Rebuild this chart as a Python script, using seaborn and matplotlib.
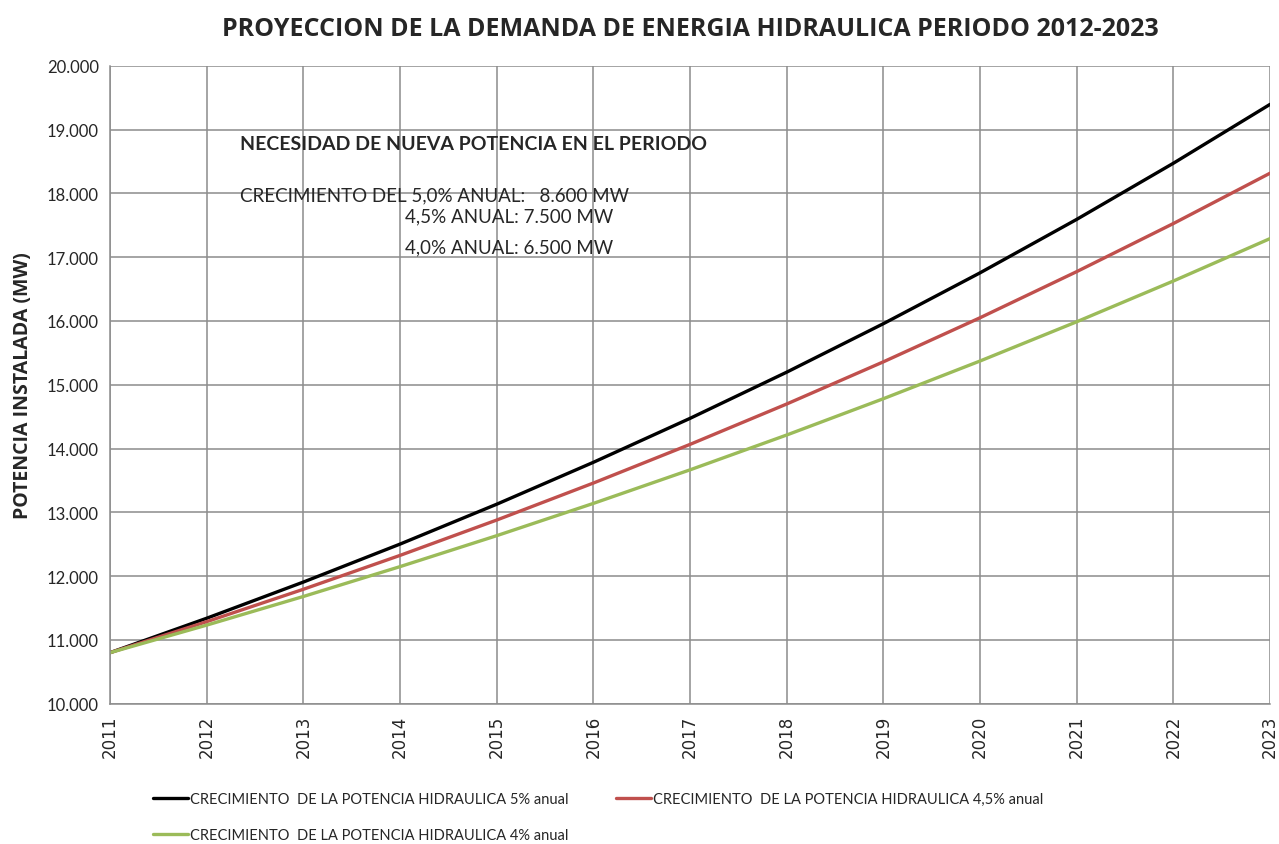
import numpy as np
import pandas as pd
import matplotlib
matplotlib.use("Agg")
import matplotlib.pyplot as plt
import seaborn as sns

# data
years = [2011, 2012, 2013, 2014, 2015, 2016, 2017, 2018, 2019, 2020, 2021, 2022, 2023]
pot_5 = [10800, 11340, 11907, 12502, 13127, 13784, 14473, 15197, 15957, 16754, 17592, 18472, 19395]
pot_45 = [10800, 11286, 11794, 12325, 12879, 13459, 14065, 14698, 15359, 16050, 16773, 17527, 18316]
pot_4 = [10800, 11232, 11681, 12149, 12634, 13140, 13666, 14212, 14781, 15372, 15987, 16626, 17291]

lab_5 = "CRECIMIENTO  DE LA POTENCIA HIDRAULICA 5% anual"
lab_45 = "CRECIMIENTO  DE LA POTENCIA HIDRAULICA 4,5% anual"
lab_4 = "CRECIMIENTO  DE LA POTENCIA HIDRAULICA 4% anual"

df = pd.DataFrame({"year": years * 3,
                   "potencia": pot_5 + pot_45 + pot_4,
                   "serie": [lab_5] * 13 + [lab_45] * 13 + [lab_4] * 13})

sns.set_style("white")
plt.rcParams["font.family"] = ["Lato", "DejaVu Sans"]

fig = plt.figure(figsize=(12.79, 8.45), dpi=100)
ax = fig.add_axes([0.086, 0.166, 0.907, 0.755])

colores = {lab_5: "#000000", lab_45: "#C0504D", lab_4: "#9BBB59"}
sns.lineplot(data=df, x="year", y="potencia", hue="serie", palette=colores,
             linewidth=2.4, ax=ax)

ax.set_xlim(2011, 2023)
ax.set_ylim(10000, 20000)
ax.set_xticks(years)
ax.set_xticklabels([str(y) for y in years], rotation=90, fontsize=12, family="DejaVu Sans")
ax.set_yticks(range(10000, 20001, 1000))
ax.set_yticklabels([f"{v:,}".replace(",", ".") for v in range(10000, 20001, 1000)], fontsize=12)
ax.grid(True, color="#8c8c8c", linewidth=1.1)
ax.set_axisbelow(True)
for s in ["top", "right"]:
    ax.spines[s].set_visible(False)
for s in ["left", "bottom"]:
    ax.spines[s].set_color("#8c8c8c")
    ax.spines[s].set_linewidth(1.1)
ax.tick_params(axis="both", length=5, color="#8c8c8c", width=1.1, pad=3)

ax.set_xlabel("")
ax.set_ylabel("POTENCIA INSTALADA (MW)", fontsize=14, fontweight="bold", labelpad=10,
              family="Open Sans")

ax.set_title("PROYECCION DE LA DEMANDA DE ENERGIA HIDRAULICA PERIODO 2012-2023",
             fontsize=18, fontweight="bold", pad=22, family="Open Sans")

# annotation box text
ax.text(0.112, 0.878, "NECESIDAD DE NUEVA POTENCIA EN EL PERIODO", transform=ax.transAxes,
        fontsize=14, fontweight="bold", va="center")
ax.text(0.112, 0.798, "CRECIMIENTO DEL 5,0% ANUAL:   8.600 MW", transform=ax.transAxes,
        fontsize=13.5, va="center")
ax.text(0.254, 0.765, "4,5% ANUAL: 7.500 MW", transform=ax.transAxes,
        fontsize=13.5, va="center")
ax.text(0.254, 0.716, "4,0% ANUAL: 6.500 MW", transform=ax.transAxes,
        fontsize=13.5, va="center")

# legend, rows: 5% | 4,5%  then 4%
h, l = ax.get_legend_handles_labels()
d = dict(zip(l, h))
order = [lab_5, lab_4, lab_45]
ax.legend([d[k] for k in order], order,
          ncol=2, frameon=False, fontsize=10.5, loc="upper left",
          bbox_to_anchor=(0.026, -0.118), handlelength=2.4, handletextpad=0.15,
          columnspacing=3.2, labelspacing=1.5)

fig.savefig("out.png", dpi=100)
